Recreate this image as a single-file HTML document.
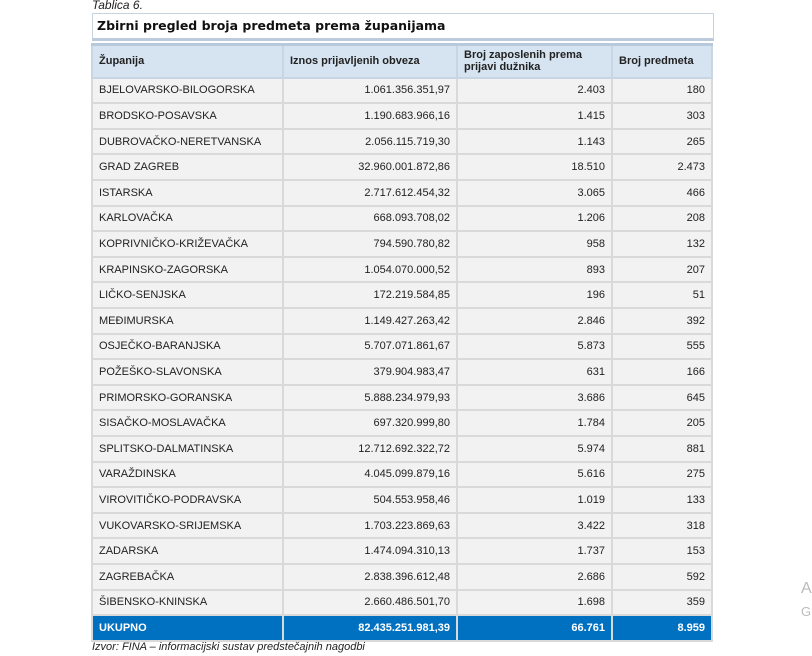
<!DOCTYPE html>
<html><head><meta charset="utf-8"><style>
body{margin:0;width:812px;height:656px;background:#fff;font-family:"Liberation Sans",Arial,sans-serif;position:relative;overflow:hidden}
.cap{position:absolute;left:92px;top:-2px;font-size:12px;font-style:italic;color:#222}
.title{position:absolute;left:92px;top:13px;width:622px;height:28px;border:1px solid #c9d3de;border-bottom:3px solid #bccbdb;box-sizing:border-box;font-family:"DejaVu Sans",sans-serif;font-weight:bold;font-size:12.5px;line-height:24px;padding-left:4px;color:#111}
table{position:absolute;left:91px;top:43px;border-collapse:collapse;width:620px;table-layout:fixed;font-size:11px;color:#222}
td{border:2px solid #d9d9d9;background:#f2f2f2;padding:0 6px;white-space:nowrap;box-sizing:border-box}
tr{height:25.62px}
tr.h{height:33px}
tr.h td{background:#d6e4f1;font-weight:bold;border-color:#c8d5e2;border-top:3px solid #b8c9db;font-size:11px;line-height:12px}
td.r{text-align:right}
tr.t{height:26px}
tr.t td{background:#0070c0;color:#fff;font-weight:bold;border-color:#d9d9d9}
.src{position:absolute;left:92px;top:641px;font-size:11px;font-style:italic;color:#222}
.side{position:absolute;left:801px;color:#bbb;font-size:16px}
</style></head><body>
<div class="cap">Tablica 6.</div>
<div class="title">Zbirni pregled broja predmeta prema županijama</div>
<table>
<colgroup><col style="width:191px"><col style="width:174px"><col style="width:155px"><col style="width:100px"></colgroup>
<tr class="h"><td>Županija</td><td>Iznos prijavljenih obveza</td><td>Broj zaposlenih prema<br>prijavi dužnika</td><td>Broj predmeta</td></tr>
<tr><td>BJELOVARSKO-BILOGORSKA</td><td class="r">1.061.356.351,97</td><td class="r">2.403</td><td class="r">180</td></tr>
<tr><td>BRODSKO-POSAVSKA</td><td class="r">1.190.683.966,16</td><td class="r">1.415</td><td class="r">303</td></tr>
<tr><td>DUBROVAČKO-NERETVANSKA</td><td class="r">2.056.115.719,30</td><td class="r">1.143</td><td class="r">265</td></tr>
<tr><td>GRAD ZAGREB</td><td class="r">32.960.001.872,86</td><td class="r">18.510</td><td class="r">2.473</td></tr>
<tr><td>ISTARSKA</td><td class="r">2.717.612.454,32</td><td class="r">3.065</td><td class="r">466</td></tr>
<tr><td>KARLOVAČKA</td><td class="r">668.093.708,02</td><td class="r">1.206</td><td class="r">208</td></tr>
<tr><td>KOPRIVNIČKO-KRIŽEVAČKA</td><td class="r">794.590.780,82</td><td class="r">958</td><td class="r">132</td></tr>
<tr><td>KRAPINSKO-ZAGORSKA</td><td class="r">1.054.070.000,52</td><td class="r">893</td><td class="r">207</td></tr>
<tr><td>LIČKO-SENJSKA</td><td class="r">172.219.584,85</td><td class="r">196</td><td class="r">51</td></tr>
<tr><td>MEĐIMURSKA</td><td class="r">1.149.427.263,42</td><td class="r">2.846</td><td class="r">392</td></tr>
<tr><td>OSJEČKO-BARANJSKA</td><td class="r">5.707.071.861,67</td><td class="r">5.873</td><td class="r">555</td></tr>
<tr><td>POŽEŠKO-SLAVONSKA</td><td class="r">379.904.983,47</td><td class="r">631</td><td class="r">166</td></tr>
<tr><td>PRIMORSKO-GORANSKA</td><td class="r">5.888.234.979,93</td><td class="r">3.686</td><td class="r">645</td></tr>
<tr><td>SISAČKO-MOSLAVAČKA</td><td class="r">697.320.999,80</td><td class="r">1.784</td><td class="r">205</td></tr>
<tr><td>SPLITSKO-DALMATINSKA</td><td class="r">12.712.692.322,72</td><td class="r">5.974</td><td class="r">881</td></tr>
<tr><td>VARAŽDINSKA</td><td class="r">4.045.099.879,16</td><td class="r">5.616</td><td class="r">275</td></tr>
<tr><td>VIROVITIČKO-PODRAVSKA</td><td class="r">504.553.958,46</td><td class="r">1.019</td><td class="r">133</td></tr>
<tr><td>VUKOVARSKO-SRIJEMSKA</td><td class="r">1.703.223.869,63</td><td class="r">3.422</td><td class="r">318</td></tr>
<tr><td>ZADARSKA</td><td class="r">1.474.094.310,13</td><td class="r">1.737</td><td class="r">153</td></tr>
<tr><td>ZAGREBAČKA</td><td class="r">2.838.396.612,48</td><td class="r">2.686</td><td class="r">592</td></tr>
<tr><td>ŠIBENSKO-KNINSKA</td><td class="r">2.660.486.501,70</td><td class="r">1.698</td><td class="r">359</td></tr>
<tr class="t"><td>UKUPNO</td><td class="r">82.435.251.981,39</td><td class="r">66.761</td><td class="r">8.959</td></tr>
</table>
<div class="src">Izvor: FINA – informacijski sustav predstečajnih nagodbi</div>
<div class="side" style="top:580px">A</div>
<div class="side" style="top:604px;font-size:13px">G</div>
</body></html>
